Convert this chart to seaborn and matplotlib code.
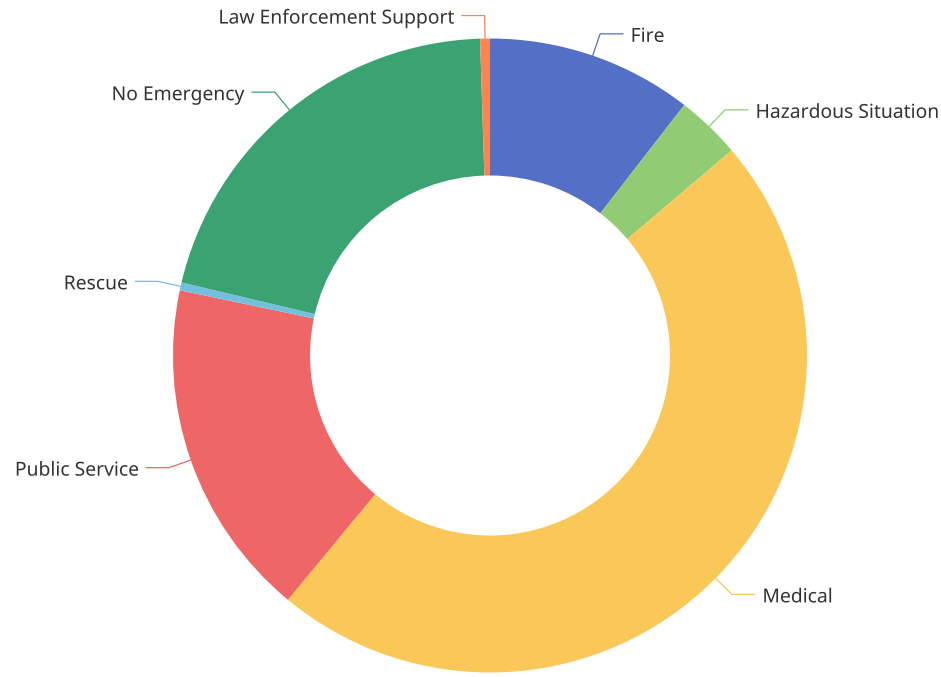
import numpy as np
import matplotlib
matplotlib.use("Agg")
import matplotlib.pyplot as plt
import matplotlib.patheffects as pe
import seaborn as sns

categories = ["Fire", "Hazardous Situation", "Medical", "Public Service",
              "Rescue", "No Emergency", "Law Enforcement Support"]
values = [10.5, 3.3, 47.2, 17.3, 0.4, 20.8, 0.5]
colors = ["#5470c6", "#91cc75", "#fac858", "#ee6666", "#73c0de", "#3ba272", "#fc8452"]

sns.set_theme(style="white")
plt.rcParams['font.family'] = ['Noto Sans', 'DejaVu Sans']

W, H = 941, 677
fig = plt.figure(figsize=(W / 100, H / 100), dpi=100)
ax = fig.add_axes([0, 0, 1, 1])

cx, cy = 490, H - 355.5
r_out, r_in = 317, 180
palette = sns.color_palette(colors)

ax.pie(values, colors=palette, startangle=90, counterclock=False,
       radius=r_out, center=(cx, cy), frame=True,
       wedgeprops=dict(width=r_out - r_in, linewidth=0, antialiased=True))
ax.set_xlim(0, W)
ax.set_ylim(0, H)
ax.set_aspect("equal")
ax.axis("off")

total = sum(values)
cum = 0.0
len1, len2, gap = 23, 23, 7.5
for cat, v, col in zip(categories, values, palette):
    mid = (cum + v / 2) / total * 2 * np.pi
    cum += v
    s, c = np.sin(mid), np.cos(mid)
    x0, y0 = cx + r_out * s, cy + r_out * c
    x1, y1 = cx + (r_out + len1) * s, cy + (r_out + len1) * c
    sign = 1 if s >= 0 else -1
    x2 = x1 + sign * len2
    ax.plot([x0, x1, x2], [y0, y1, y1], color=col, lw=0.9, solid_joinstyle="miter")
    ax.text(x2 + sign * gap, y1 - 3, cat, ha="left" if sign > 0 else "right",
            va="center", fontsize=13.9, color="#333333",
            path_effects=[pe.withStroke(linewidth=2.5, foreground="white")])

fig.savefig("out.png", dpi=100)
